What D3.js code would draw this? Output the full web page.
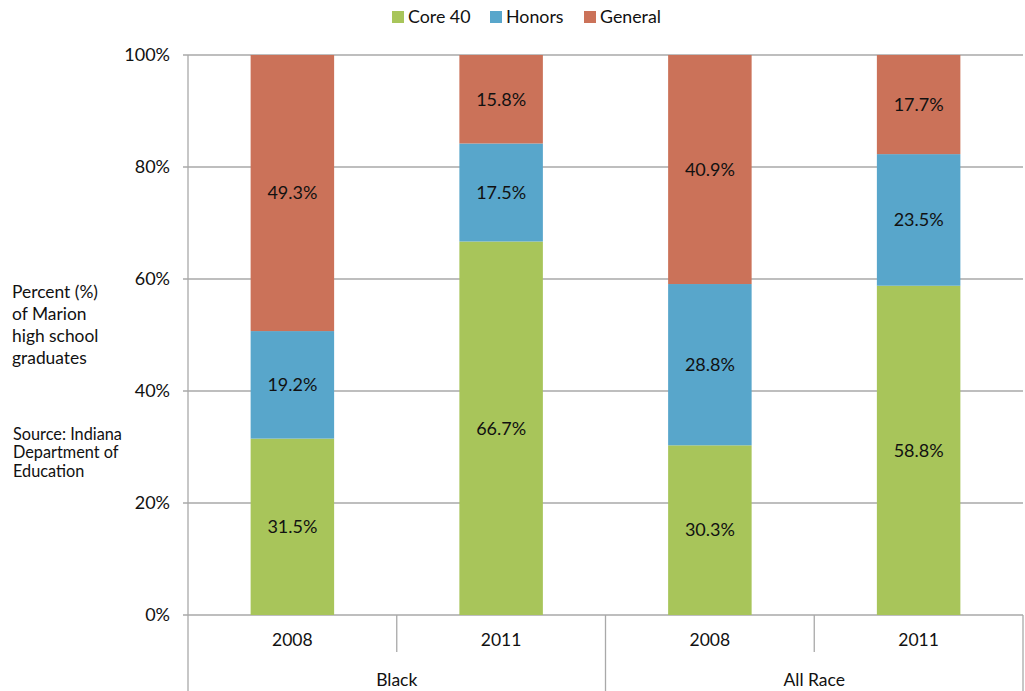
<!DOCTYPE html>
<html>
<head>
<meta charset="utf-8">
<script src="https://cdnjs.cloudflare.com/ajax/libs/d3/7.8.5/d3.min.js"></script>
<style>
  html, body { margin: 0; padding: 0; background: #fff; }
  svg { display: block; font-family: Lato, "Open Sans", sans-serif; }
</style>
</head>
<body>
<svg id="chart" width="1025" height="691"></svg>
<script>
// ---- data ----
const groups = ["Black", "Black", "All Race", "All Race"];
const years = ["2008", "2011", "2008", "2011"];
const groupNames = ["Black", "All Race"];
const seriesNames = ["Core 40", "Honors", "General"];
const core40 = [31.5, 66.7, 30.3, 58.8];
const honors = [19.2, 17.5, 28.8, 23.5];
const general = [49.3, 15.8, 40.9, 17.7];
const yTicks = [0, 20, 40, 60, 80, 100];
const colors = ["#a8c55a", "#58a6cb", "#cb7259"];
const yTitleLines = ["Percent (%)", "of Marion", "high school", "graduates"];
const sourceLines = ["Source: Indiana", "Department of", "Education"];

// ---- layout ----
const svg = d3.select("#chart");
const plotLeft = 188, plotRight = 1023, plotTop = 55, plotBottom = 615;
const textColor = "#111";

const keys = years.map((yv, i) => i);
const x = d3.scaleBand().domain(keys).range([plotLeft, plotRight]).paddingInner(0.6).paddingOuter(0.3);
const y = d3.scaleLinear().domain([0, 100]).range([plotBottom, plotTop]);

const rows = keys.map(i => ({ i, "Core 40": core40[i], "Honors": honors[i], "General": general[i] }));
const stack = d3.stack().keys(seriesNames)(rows);

// gridlines
svg.append("g").selectAll("line").data(yTicks).join("line")
  .attr("x1", plotLeft - 5).attr("x2", plotRight)
  .attr("y1", d => y(d)).attr("y2", d => y(d))
  .attr("stroke", "#a9a9a9").attr("stroke-width", 1.3);

// y-axis labels
svg.append("g").selectAll("text").data(yTicks).join("text")
  .attr("x", 170).attr("y", d => y(d)).attr("dy", "0.35em")
  .attr("text-anchor", "end").attr("font-size", 18).attr("fill", textColor)
  .text(d => d + "%");

// bars
const series = svg.append("g").selectAll("g").data(stack).join("g")
  .attr("fill", (d, k) => colors[k]);
series.selectAll("rect").data(d => d).join("rect")
  .attr("x", d => x(d.data.i))
  .attr("width", x.bandwidth())
  .attr("y", d => y(d[1]))
  .attr("height", d => y(d[0]) - y(d[1]));

// value labels
const labels = svg.append("g");
stack.forEach(s => {
  labels.selectAll(null).data(s).join("text")
    .attr("x", d => x(d.data.i) + x.bandwidth() / 2)
    .attr("y", d => (y(d[0]) + y(d[1])) / 2)
    .attr("dy", "0.35em")
    .attr("text-anchor", "middle").attr("font-size", 18).attr("fill", textColor)
    .text(d => d.data[s.key].toFixed(1) + "%");
});

// axes lines
const axisColor = "#a9a9a9";
svg.append("line").attr("x1", plotLeft).attr("x2", plotLeft).attr("y1", plotTop).attr("y2", 691)
  .attr("stroke", axisColor).attr("stroke-width", 1.3);
svg.append("line").attr("x1", plotRight).attr("x2", plotRight).attr("y1", plotBottom).attr("y2", 691)
  .attr("stroke", axisColor).attr("stroke-width", 1.3);
// category separators
const step = x.step();
keys.slice(1).forEach(i => {
  const xx = x(i) - (step - x.bandwidth()) / 2;
  const full = groups[i] !== groups[i - 1];
  svg.append("line").attr("x1", xx).attr("x2", xx)
    .attr("y1", plotBottom).attr("y2", full ? 691 : 652)
    .attr("stroke", axisColor).attr("stroke-width", 1.3);
});

// year labels
svg.append("g").selectAll("text").data(keys).join("text")
  .attr("x", i => x(i) + x.bandwidth() / 2).attr("y", 640).attr("dy", "0.35em")
  .attr("text-anchor", "middle").attr("font-size", 17.5).attr("fill", textColor)
  .text(i => years[i]);

// group labels
groupNames.forEach(g => {
  const idx = keys.filter(i => groups[i] === g);
  const x0 = x(idx[0]) - (step - x.bandwidth()) / 2;
  const x1 = x(idx[idx.length - 1]) + x.bandwidth() + (step - x.bandwidth()) / 2;
  svg.append("text").attr("x", (x0 + x1) / 2).attr("y", 680).attr("dy", "0.35em")
    .attr("text-anchor", "middle").attr("font-size", 17.5).attr("fill", textColor)
    .text(g);
});

// y title
svg.append("g").selectAll("text").data(yTitleLines).join("text")
  .attr("x", 12).attr("y", (d, i) => 292 + i * 22).attr("dy", "0.35em")
  .attr("font-size", 17.4).attr("fill", textColor).text(d => d);

// source
svg.append("g").selectAll("text").data(sourceLines).join("text")
  .attr("x", 13).attr("y", (d, i) => 434 + i * 18.5).attr("dy", "0.35em")
  .attr("font-size", 16.3).attr("fill", textColor).text(d => d);

// legend
const legendX = [392, 490, 584];
const lg = svg.append("g").selectAll("g").data(seriesNames).join("g")
  .attr("transform", (d, k) => `translate(${legendX[k]},17)`);
lg.append("rect").attr("x", 0).attr("y", -6).attr("width", 12).attr("height", 12)
  .attr("fill", (d, k) => colors[k]);
lg.append("text").attr("x", 16).attr("y", 0).attr("dy", "0.35em")
  .attr("font-size", 17.8).attr("fill", textColor).text(d => d);
</script>
</body>
</html>
